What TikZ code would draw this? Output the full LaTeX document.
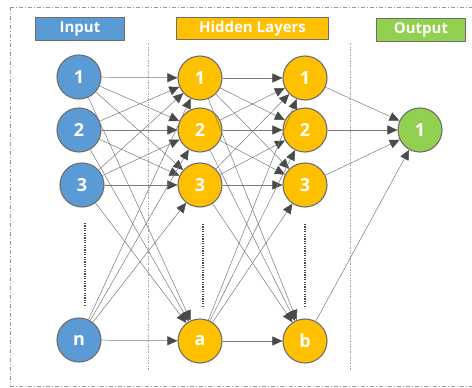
\documentclass[tikz,border=0pt]{standalone}
\usepackage{fontspec}
\setmainfont{Open Sans}
\usetikzlibrary{arrows.meta}
\definecolor{nblue}{HTML}{5B9BD5}
\definecolor{norange}{HTML}{FFC000}
\definecolor{ngreen}{HTML}{92D050}
\definecolor{nborder}{HTML}{6E6E6E}
\definecolor{nedge}{HTML}{7A7A7A}
\definecolor{nhead}{HTML}{4A4A4A}
\tikzset{
  neuron/.style={circle,draw=nborder,line width=1.1pt,minimum size=44pt,inner sep=0pt,text=white,font=\fontsize{18}{18}\selectfont\bfseries},
  inp/.style={neuron,fill=nblue},
  hid/.style={neuron,fill=norange},
  outn/.style={neuron,fill=ngreen},
  lbl/.style={draw=nborder,line width=1pt,text=white,font=\fontsize{15}{15}\selectfont\bfseries,inner sep=0pt,anchor=north west},
  conn/.style={draw=nedge,line width=0.5pt,-{Triangle[length=10pt,width=9pt,fill=nhead,color=nhead]}},
  divider/.style={draw=gray!70,line width=0.5pt,dash pattern=on 2pt off 1.5pt on 0.5pt off 1.5pt},
  ellip/.style={draw=nhead,line width=1.6pt,dash pattern=on 1.2pt off 1.2pt},
  frame/.style={draw=gray!80,line width=0.6pt,dash pattern=on 4pt off 2pt on 1pt off 2pt}
}
\begin{document}
\begin{tikzpicture}[x=1pt,y=-1pt]
\useasboundingbox (0,0) rectangle (472,388);
\fill[white] (0,0) rectangle (472,388);
\draw[frame] (10,7) -- (480,7);
\draw[frame] (10,7) -- (10,386);
\draw[frame] (10,386) -- (480,386);
% labels
\node[lbl,fill=nblue,minimum width=89pt,minimum height=23pt] (lin) at (35,17) {Input};
\node[lbl,fill=norange,minimum width=152pt,minimum height=22pt] (lhid) at (176,17) {Hidden Layers};
\node[lbl,fill=ngreen,minimum width=89pt,minimum height=23pt] (lout) at (376,18) {Output};
% dividers
\draw[divider] (148,43) -- (148,370);
\draw[divider] (350,43) -- (350,370);
% ellipsis
\draw[ellip] (85,223) -- (85,306);
\draw[ellip] (203,224) -- (203,308);
\draw[ellip] (305,224) -- (305,308);
% nodes
\node[inp] (i1) at (79,77) {1};
\node[inp] (i2) at (79,130) {2};
\node[inp] (i3) at (82,185) {3};
\node[inp] (in) at (79,340) {n};
\node[hid] (h1) at (200,78) {1};
\node[hid] (h2) at (200,130) {2};
\node[hid] (h3) at (200,185) {3};
\node[hid] (ha) at (200,341) {a};
\node[hid] (g1) at (305,78) {1};
\node[hid] (g2) at (305,130) {2};
\node[hid] (g3) at (305,185) {3};
\node[hid] (gb) at (305,341) {b};
\node[outn] (o1) at (420,130) {1};
% edges
\foreach \s in {i1,i2,i3,in}{
  \foreach \t in {h1,h2,h3,ha}{
    \draw[conn] (\s) -- (\t);
  }
}
\foreach \s in {h1,h2,h3,ha}{
  \foreach \t in {g1,g2,g3,gb}{
    \draw[conn] (\s) -- (\t);
  }
}
\foreach \s in {g1,g2,g3,gb}{
  \draw[conn] (\s) -- (o1);
}
\end{tikzpicture}
\end{document}
